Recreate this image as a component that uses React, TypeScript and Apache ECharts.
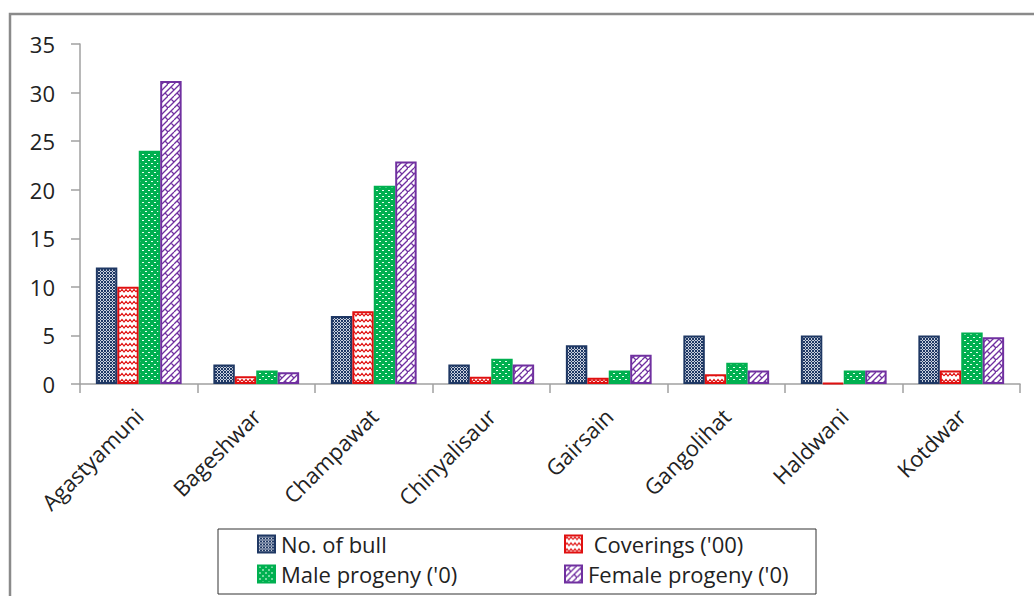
import React, { useEffect, useRef } from "react";
import * as echarts from "echarts";

const categories = ["Agastyamuni", "Bageshwar", "Champawat", "Chinyalisaur", "Gairsain", "Gangolihat", "Haldwani", "Kotdwar"];
const seriesNames = ["No. of bull", "Coverings ('00)", "Male progeny ('0)", "Female progeny ('0)"];
const bullValues = [12, 2, 7, 2, 4, 5, 5, 5];
const coveringValues = [10, 0.8, 7.5, 0.75, 0.65, 1, 0.1, 1.4];
const maleValues = [24, 1.4, 20.4, 2.6, 1.4, 2.2, 1.4, 5.3];
const femaleValues = [31.2, 1.2, 22.9, 2, 3, 1.4, 1.4, 4.8];
const yTicks = { min: 0, max: 35, interval: 5 };

function makePattern(w: number, h: number, draw: (ctx: CanvasRenderingContext2D) => void) {
  const c = document.createElement("canvas");
  c.width = w;
  c.height = h;
  const ctx = c.getContext("2d") as CanvasRenderingContext2D;
  draw(ctx);
  return { image: c.toDataURL(), repeat: "repeat", imageWidth: w, imageHeight: h };
}

export default function App() {
  const ref = useRef<HTMLDivElement>(null);
  useEffect(() => {
    if (!ref.current) return;
    const chart = echarts.init(ref.current, undefined, { renderer: "svg" });

    const bullPat = makePattern(3, 3, (ctx) => {
      ctx.fillStyle = "#c9d0dd";
      ctx.fillRect(0, 0, 3, 3);
      ctx.fillStyle = "#1F3864";
      ctx.fillRect(0, 0, 1, 1);
      ctx.fillRect(1, 1, 1, 1);
      ctx.fillRect(2, 2, 1, 1);
      ctx.fillRect(2, 0, 1, 1);
      ctx.fillRect(0, 2, 1, 1);
    });
    const covPat = makePattern(8, 6, (ctx) => {
      ctx.fillStyle = "#ffffff";
      ctx.fillRect(0, 0, 8, 6);
      ctx.strokeStyle = "#E01010";
      ctx.lineWidth = 1.2;
      ctx.beginPath();
      ctx.moveTo(0, 4);
      ctx.lineTo(2, 1.5);
      ctx.lineTo(4, 4);
      ctx.lineTo(6, 1.5);
      ctx.lineTo(8, 4);
      ctx.stroke();
    });
    const malePat = makePattern(6, 6, (ctx) => {
      ctx.fillStyle = "#00B050";
      ctx.fillRect(0, 0, 6, 6);
      ctx.fillStyle = "#e8fff0";
      ctx.fillRect(1, 1, 2, 1);
      ctx.fillRect(4, 4, 2, 1);
    });
    const femPat = makePattern(12, 12, (ctx) => {
      ctx.fillStyle = "#ffffff";
      ctx.fillRect(0, 0, 12, 12);
      ctx.strokeStyle = "#7030A0";
      ctx.lineWidth = 1.3;
      ctx.beginPath();
      ctx.moveTo(0, 12);
      ctx.lineTo(12, 0);
      ctx.moveTo(-6, 12);
      ctx.lineTo(6, 0);
      ctx.moveTo(6, 12);
      ctx.lineTo(18, 0);
      ctx.moveTo(3, 3);
      ctx.lineTo(6, 6);
      ctx.moveTo(9, 9);
      ctx.lineTo(12, 12);
      ctx.stroke();
    });

    const font = "'Open Sans', 'Liberation Sans', sans-serif";
    const fs = 22;
    const mk = (name: string, data: number[], fill: any, border: string) => ({
      name,
      type: "bar",
      data,
      barGap: "0%",
      barCategoryGap: "27%",
      itemStyle: { color: fill, borderColor: border, borderWidth: 2 },
    });

    const legendBase = {
      orient: "vertical",
      top: 533,
      padding: 0,
      itemWidth: 17,
      itemHeight: 17,
      itemGap: 8,
      icon: "rect",
      textStyle: { fontSize: fs, color: "#222", fontFamily: font, padding: [0, 0, 0, 1], lineHeight: 22 },
    };

    const option: any = {
      animation: false,
      backgroundColor: "#ffffff",
      textStyle: { fontFamily: font },
      grid: { left: 80, right: 14, top: 44, bottom: 212, containLabel: false },
      xAxis: {
        type: "category",
        data: categories,
        axisLine: { show: true, lineStyle: { color: "#a0a0a0", width: 1.5 } },
        axisTick: { show: true, length: 9, lineStyle: { color: "#a0a0a0", width: 1.5 } },
        axisLabel: { rotate: 45, margin: 28, fontSize: fs, color: "#222", fontFamily: font, interval: 0 },
      },
      yAxis: {
        type: "value",
        min: yTicks.min,
        max: yTicks.max,
        interval: yTicks.interval,
        splitLine: { show: false },
        axisLine: { show: true, lineStyle: { color: "#a0a0a0", width: 1.5 } },
        axisTick: { show: true, length: 9, lineStyle: { color: "#a0a0a0", width: 1.5 } },
        axisLabel: { margin: 25, fontSize: fs, color: "#222", fontFamily: font },
      },
      legend: [
        { ...legendBase, data: [seriesNames[0], seriesNames[2]], left: 257 },
        {
          ...legendBase,
          data: [seriesNames[1], seriesNames[3]],
          left: 564,
          formatter: (n: string) => (n === seriesNames[1] ? " " + n : n),
        },
      ],
      graphic: [
        {
          type: "rect",
          shape: { x: 10, y: 14, width: 1040, height: 620 },
          style: { fill: "none", stroke: "#8a8a8a", lineWidth: 2.5 },
          silent: true,
          z: 0,
        },
        {
          type: "rect",
          shape: { x: 218, y: 529, width: 598, height: 65 },
          style: { fill: "none", stroke: "#333", lineWidth: 1 },
          silent: true,
        },
      ],
      series: [
        mk(seriesNames[0], bullValues, bullPat, "#1F3864"),
        mk(seriesNames[1], coveringValues, covPat, "#E01010"),
        mk(seriesNames[2], maleValues, malePat, "#00B050"),
        mk(seriesNames[3], femaleValues, femPat, "#7030A0"),
      ],
    };
    chart.setOption(option);
    return () => chart.dispose();
  }, []);

  return <div ref={ref} style={{ position: "fixed", left: 0, top: 0, width: 1034, height: 596 }} />;
}
